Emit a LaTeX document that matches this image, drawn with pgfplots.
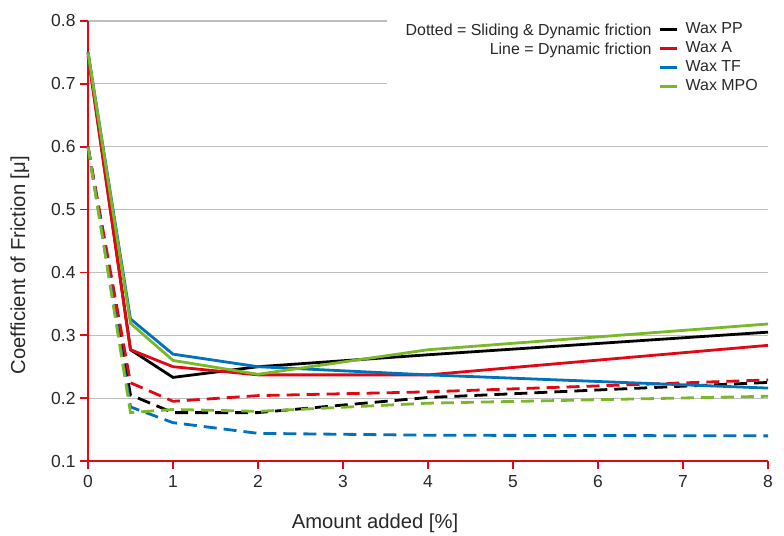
\documentclass[border=0pt]{standalone}
\usepackage{pgfplots}
\pgfplotsset{compat=1.18}
\usepackage{fontspec}
\setmainfont{Liberation Sans}
\definecolor{cred}{RGB}{227,6,19}
\definecolor{cblue}{RGB}{0,114,188}
\definecolor{cgreen}{RGB}{122,184,42}
\definecolor{cgrid}{RGB}{190,190,190}
\definecolor{ctext}{RGB}{40,40,40}
\begin{document}
\begin{tikzpicture}
\begin{axis}[
  scale only axis,
  width=680bp, height=440bp,
  xmin=0, xmax=8, ymin=0.1, ymax=0.8,
  xtick={0,1,...,8},
  ytick={0.1,0.2,...,0.8},
  yticklabel style={/pgf/number format/fixed, /pgf/number format/fixed zerofill, /pgf/number format/precision=1, xshift=-1bp},
  /pgf/number format/assume math mode=true,
  axis lines*=left,
  axis line style={cred, line width=1.6bp, -},
  tick style={cred, line width=1.6bp},
  tick align=outside,
  major tick length=8bp,
  ymajorgrids,
  major grid style={cgrid, line width=1.2bp},
  tick label style={font=\fontsize{17.5}{20}\selectfont, text=ctext},
  xticklabel style={yshift=-3bp},
  label style={font=\fontsize{20.3}{24}\selectfont, text=ctext},
  xlabel={Amount added [\%]},
  ylabel={Coefficient of Friction [μ]},
  xlabel style={at={(rel axis cs:0.422,-0.141)}, anchor=center},
  ylabel style={at={(rel axis cs:-0.1,0.445)}, anchor=center},
  legend style={draw=none, fill=white, at={(rel axis cs:0.834,1.007)}, anchor=north west,
    font=\fontsize{16}{20}\selectfont, text=ctext,
    nodes={inner ysep=2.5bp, text height=11bp, text depth=3bp},
    row sep=0bp},
  legend cell align=left,
  legend image code/.code={\path[draw=none, fill=none] (0bp,-1bp) rectangle (24bp,1bp); \draw[line width=2.8bp] (0bp,0bp) -- (17bp,0bp);},
  clip=false,
]
% dashed series
\addplot[black, line width=2.8bp, dash pattern=on 13bp off 7bp, forget plot] coordinates {(0,0.6)(0.5,0.205)(1,0.177)(2,0.177)(4,0.201)(8,0.225)};
\addplot[cred, line width=2.8bp, dash pattern=on 13bp off 7bp, forget plot] coordinates {(0,0.6)(0.5,0.2245)(1,0.195)(2,0.204)(4,0.210)(8,0.229)};
\addplot[cblue, line width=2.8bp, dash pattern=on 13bp off 7bp, forget plot] coordinates {(0,0.6)(0.5,0.186)(1,0.161)(2,0.144)(4,0.141)(8,0.140)};
\addplot[cgreen, line width=2.8bp, dash pattern=on 13bp off 7bp, forget plot] coordinates {(0,0.6)(0.5,0.177)(1,0.182)(2,0.179)(4,0.192)(8,0.203)};
% solid series
\addplot[black, line width=2.8bp] coordinates {(0,0.75)(0.5,0.277)(1,0.233)(2,0.250)(4,0.269)(8,0.305)};
\addlegendentry{Wax PP}
\addplot[cred, line width=2.8bp] coordinates {(0,0.745)(0.5,0.277)(1,0.250)(2,0.237)(4,0.237)(8,0.284)};
\addlegendentry{Wax A}
\addplot[cblue, line width=2.8bp] coordinates {(0,0.75)(0.5,0.326)(1,0.270)(2,0.250)(4,0.237)(8,0.216)};
\addlegendentry{Wax TF}
\addplot[cgreen, line width=2.8bp] coordinates {(0,0.75)(0.5,0.319)(1,0.260)(2,0.238)(4,0.277)(8,0.318)};
\addlegendentry{Wax MPO}
\fill[white] (rel axis cs:0.4397,1.01) rectangle (rel axis cs:1.0,0.825);
\node[anchor=north east, align=right, font=\fontsize{16}{19}\selectfont, text=ctext, inner sep=0pt]
  at (rel axis cs:0.829,0.994) {Dotted = Sliding \& Dynamic friction\\Line = Dynamic friction};
\path (rel axis cs:-0.1294,1.0477) rectangle (rel axis cs:1.0235,-0.1659);
\end{axis}
\end{tikzpicture}
\end{document}
